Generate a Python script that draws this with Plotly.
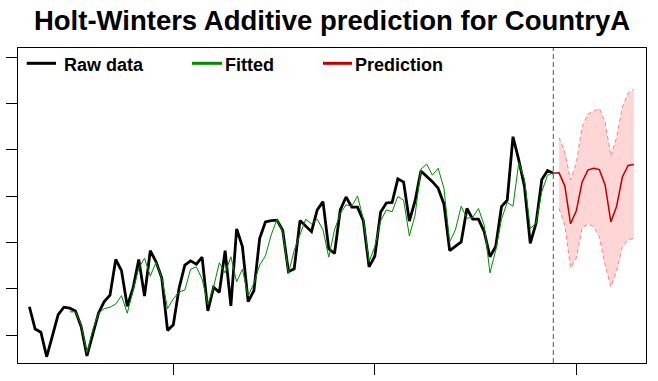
import plotly.graph_objects as go

# Time series settings (frequency 7, starting at period 1, position 4)
START = 1 + 3 / 7
FREQ = 7

raw_data = [161, 113, 106, 53, 98, 144, 160, 158, 152, 118,
            55, 104, 147, 172, 186, 263, 239, 162, 201, 263,
            184, 282, 258, 223, 110, 122, 201, 251, 260, 253,
            268, 152, 203, 192, 282, 163, 329, 291, 172, 196,
            309, 344, 347, 348, 326, 237, 243, 347, 335, 323,
            370, 388, 286, 276, 370, 398, 376, 376, 347, 247,
            270, 365, 385, 386, 437, 430, 346, 390, 454, 443,
            431, 417, 383, 282, 292, 301, 373, 350, 350, 323,
            269, 291, 377, 391, 528, 478, 420, 298, 341, 435,
            455, 449]

# fitted values start one season (7 steps) after the raw data
fitted_offset = 7
fitted = [150, 150, 122, 62, 111, 147, 157, 160, 167, 185,
          147, 193, 244, 266, 227, 257, 223, 157, 178, 193,
          197, 242, 247, 221, 166, 204, 256, 234, 269, 215,
          242, 184, 212, 251, 271, 316, 350, 323, 233, 283,
          316, 350, 340, 350, 327, 268, 327, 362, 381, 378,
          400, 350, 258, 291, 346, 370, 366, 399, 391, 314,
          359, 458, 469, 445, 460, 417, 301, 327, 378, 352,
          354, 373, 337, 234, 283, 350, 386, 378, 472, 436,
          330, 341, 409, 445, 450]

prediction = [450, 422, 340, 368, 430, 456, 460, 457, 424, 344, 378, 441, 466, 468]
upper = [526, 495, 435, 471, 549, 577, 583, 589, 560, 486, 527, 592, 622, 631]
lower = [373, 337, 245, 266, 331, 340, 334, 312, 251, 204, 238, 290, 305, 309]

y_ticks = [100, 200, 300, 400, 500, 600, 700]
x_ticks = [5, 10, 15]

t_raw = [START + i / FREQ for i in range(len(raw_data))]
t_fit = [START + (i + fitted_offset) / FREQ for i in range(len(fitted))]
t_pred = [START + (len(raw_data) + i) / FREQ for i in range(len(prediction))]

BAND_LINE = "#FF8080"
BAND_FILL = "rgba(255,0,0,0.16)"
RAW_COL = "#000000"
FIT_COL = "#008B00"
PRED_COL = "#C00000"

fig = go.Figure()

fig.add_trace(go.Scatter(x=t_raw, y=raw_data, mode="lines",
                         line=dict(color=RAW_COL, width=2.8), name="Raw data",
                         showlegend=False))
fig.add_trace(go.Scatter(x=t_fit, y=fitted, mode="lines",
                         line=dict(color=FIT_COL, width=1), name="Fitted",
                         showlegend=False))
fig.add_trace(go.Scatter(x=t_pred, y=lower, mode="lines",
                         line=dict(color=BAND_LINE, width=1, dash="4px,3px"),
                         showlegend=False, hoverinfo="skip"))
fig.add_trace(go.Scatter(x=t_pred, y=upper, mode="lines", fill="tonexty",
                         fillcolor=BAND_FILL,
                         line=dict(color=BAND_LINE, width=1, dash="4px,3px"),
                         showlegend=False, hoverinfo="skip"))
fig.add_trace(go.Scatter(x=[t_raw[-1]] + t_pred, y=[raw_data[-1]] + prediction,
                         mode="lines", line=dict(color=PRED_COL, width=1.5),
                         name="Prediction", showlegend=False))

# vertical dashed line at the end of observed data
fig.add_shape(type="line", x0=t_raw[-1], x1=t_raw[-1], xref="x",
              y0=0, y1=1, yref="paper",
              line=dict(color="#555555", width=1, dash="5px,3px"))

FIG_W, FIG_H = 658, 381
# plot area in pixels
L, R, T, B = 18, 646, 48, 363
W, H = R - L, B - T

def px_x(p):
    return (p - L) / W
def px_y(p):
    return (B - p) / H

legend_items = [("Raw data", RAW_COL, 26.7, 56, 63),
                ("Fitted", FIT_COL, 192, 222, 224),
                ("Prediction", PRED_COL, 323, 352, 354)]
for label, col, lx0, lx1, tx in legend_items:
    fig.add_shape(type="line", xref="paper", yref="paper",
                  x0=px_x(lx0), x1=px_x(lx1), y0=px_y(63.3), y1=px_y(63.3),
                  line=dict(color=col, width=3))
    fig.add_annotation(xref="paper", yref="paper", x=px_x(tx), y=px_y(64.5),
                       xanchor="left", yanchor="middle", showarrow=False,
                       text=label, borderpad=0,
                       font=dict(family="Liberation Sans, Arial, sans-serif",
                                 size=18, color="#000000", weight="bold"))

fig.update_layout(
    width=FIG_W, height=FIG_H,
    margin=dict(l=L, r=FIG_W - R, t=T, b=FIG_H - B, autoexpand=False),
    paper_bgcolor="white", plot_bgcolor="white",
    title=dict(text="Holt-Winters Additive prediction for CountryA",
               x=0.5, xref="paper", xanchor="center",
               y=1 - 20 / FIG_H, yref="container", yanchor="middle",
               font=dict(family="Liberation Sans, Arial, sans-serif",
                         size=27.5, color="#000000", weight="bold")),
    showlegend=False,
)
fig.update_xaxes(range=[1.146, 16.729], tickvals=x_ticks, showticklabels=False,
                 ticks="outside", ticklen=11, tickwidth=1, tickcolor="black",
                 showline=True, linecolor="black", linewidth=1, mirror=True,
                 showgrid=False, zeroline=False, automargin=False)
fig.update_yaxes(range=[39.6, 719.5], tickvals=y_ticks, showticklabels=False,
                 ticks="outside", ticklen=11, tickwidth=1, tickcolor="black",
                 showline=True, linecolor="black", linewidth=1, mirror=True,
                 showgrid=False, zeroline=False, automargin=False)

# remove the browser's default 8px body margin so the figure fills the window
fig.write_html("out.html",
               config={"displayModeBar": False},
               post_script="document.body.style.margin='0';"
                           "document.body.style.overflow='hidden';")
